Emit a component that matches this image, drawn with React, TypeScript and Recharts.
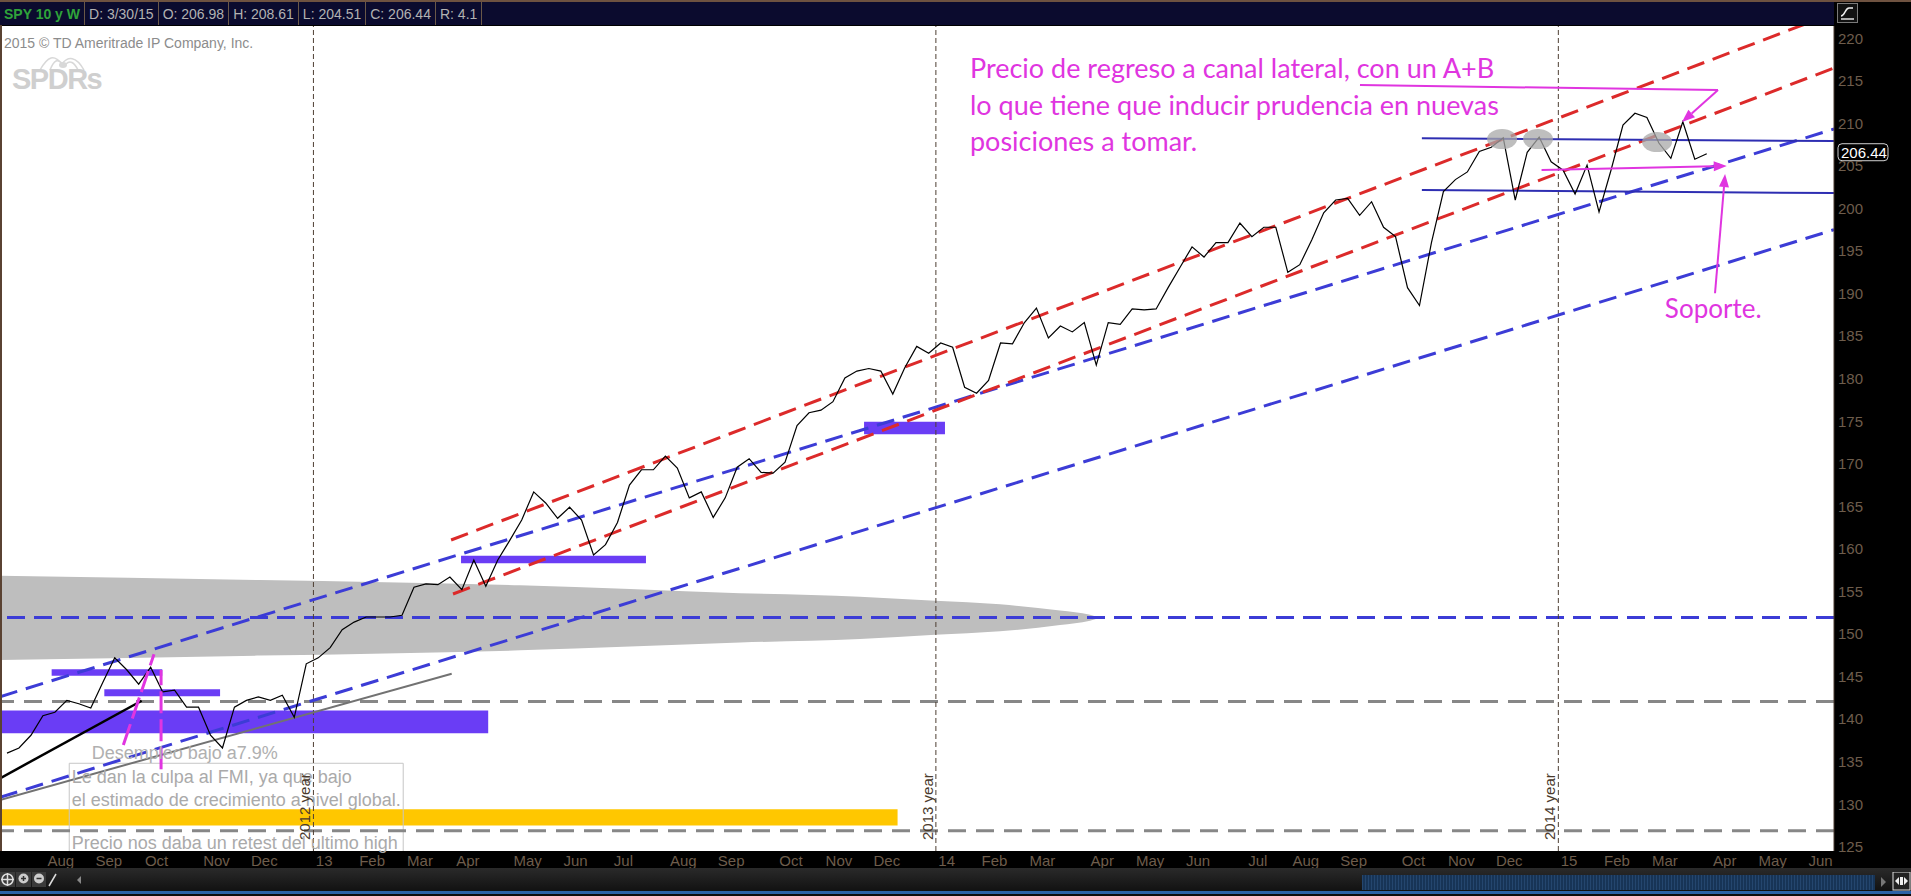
import React from 'react';
import {
  ComposedChart, Line, Area, XAxis, YAxis, CartesianGrid,
  ReferenceLine, ReferenceArea, ReferenceDot,
} from 'recharts';

// SPY weekly closes, week of 7/9/12 .. week of 3/30/15 (x = week number)
const closes = [
  136.0, 136.6, 138.1, 140.4, 140.8, 142.2, 141.8, 141.3, 144.3, 147.2,
  145.8, 144.1, 146.1, 143.2, 143.4, 141.4, 141.4, 138.1, 136.6, 141.4,
  142.2, 142.6, 142.2, 142.8, 140.2, 146.5, 147.2, 148.4, 150.5, 151.4,
  152.0, 152.0, 152.0, 152.2, 155.5, 155.9, 155.8, 156.7, 155.2, 158.7,
  155.6, 158.7, 161.0, 163.4, 166.7, 165.4, 163.6, 164.9, 163.4, 159.3,
  160.5, 163.1, 167.5, 169.3, 169.3, 170.9, 169.5, 166.0, 166.7, 163.7,
  166.0, 169.6, 170.6, 169.0, 168.9, 170.2, 174.5, 176.0, 176.3, 177.3,
  180.1, 180.9, 181.2, 180.9, 178.2, 181.3, 183.8, 183.0, 184.2, 183.7,
  179.0, 178.3, 179.8, 184.2, 184.1, 186.6, 188.3, 184.8, 186.2, 185.5,
  186.6, 181.6, 186.6, 186.4, 188.2, 188.1, 188.2, 190.7, 193.1, 195.5,
  194.3, 196.0, 196.0, 198.3, 196.7, 197.8, 197.8, 192.5, 193.4, 196.3,
  199.5, 201.0, 201.2, 199.2, 200.8, 197.8, 196.7, 190.7, 188.6, 196.0,
  202.0, 203.4, 204.3, 206.7, 207.2, 208.3, 201.0, 206.6, 208.4, 205.5,
  204.5, 201.7, 205.1, 199.6, 204.5, 209.8, 211.2, 210.7, 207.7, 205.9,
  210.2, 205.8, 206.44,
];

// first weekly bar of each month
const monthWeeks = [4, 8, 12, 17, 21, 26, 30, 34, 38, 43, 47, 51, 56, 60, 65, 69, 73,
  78, 82, 86, 91, 95, 99, 104, 108, 112, 117, 121, 125, 130, 134, 138, 143, 147, 151];
const monthLabels = ['Aug', 'Sep', 'Oct', 'Nov', 'Dec', '13', 'Feb', 'Mar', 'Apr', 'May', 'Jun', 'Jul',
  'Aug', 'Sep', 'Oct', 'Nov', 'Dec', '14', 'Feb', 'Mar', 'Apr', 'May', 'Jun', 'Jul', 'Aug', 'Sep',
  'Oct', 'Nov', 'Dec', '15', 'Feb', 'Mar', 'Apr', 'May', 'Jun'];

const yearWeeks = [25.6, 77.6, 129.6];
const yearLabels = ['2012 year', '2013 year', '2014 year'];

const priceTicks = [125, 130, 135, 140, 145, 150, 155, 160, 165, 170, 175, 180, 185, 190, 195, 200, 205, 210, 215, 220];

const headerFields = ['SPY 10 y W', 'D: 3/30/15', 'O: 206.98', 'H: 208.61', 'L: 204.51', 'C: 206.44', 'R: 4.1'];
const lastClose = 206.44;

const xMin = -0.585;
const xMax = 152.63;
const yMin = 124.5;
const yMax = 221.45;

// grey volume wedge around 152
const wedgeWeeks = [xMin, 21.14, 42.86, 61.24, 71.26, 77.53, 82.96, 87.97, 90.48, 91.31];
const wedgeTop = [156.84, 156.34, 155.72, 154.8, 154.39, 153.9, 153.49, 152.75, 152.25, 151.9];
const wedgeBottom = [146.96, 147.46, 148.08, 149.0, 149.41, 149.9, 150.31, 151.05, 151.55, 151.9];

// drawn studies: [x1, y1, x2, y2] in weeks / price
const redChannel = [
  [37.1, 161.05, xMax, 222.97],
  [37.26, 154.7, xMax, 216.51],
];
const blueTrends = [
  [xMin, 142.63, xMax, 209.34],
  [xMin, 130.81, xMax, 197.51],
];
const rangeLines = [
  [118.2, 208.25, xMax, 207.93],
  [118.2, 202.17, xMax, 201.82],
];
const blackTrend = [xMin, 133.04, 11.25, 142.16];
const greyTrend = [xMin, 130.5, 37.15, 145.32];
const magentaDashes = [
  [9.72, 136.96, 12.28, 147.62],
  [12.87, 134.1, 12.87, 145.77],
];
const blueLevel = 151.95;
const greyLevels = [142.07, 126.89];

// [x1, x2, y1, y2]
const violetBars = [
  [xMin, 40.2, 138.35, 141.0],
  [3.73, 12.97, 145.1, 145.85],
  [8.13, 17.8, 142.7, 143.5],
  [37.93, 53.38, 158.31, 159.2],
  [71.6, 78.36, 173.47, 174.95],
];
const goldBar = [xMin, 74.4, 127.5, 129.4];
const noteBox = [5.2, 33.1, 120, 134.81];

const topMarks = [[124.9, 208.16], [127.9, 208.16], [137.85, 207.81]];

const abLine = [113.03, 214.51, 142.94, 213.92];
const abArrow = [142.94, 213.92, 139.93, 210.16];
const supportArrows = [
  [128.2, 204.52, 143.67, 204.99],
  [142.69, 190.04, 143.53, 204.05],
];

const mainNote = ['Precio de regreso a canal lateral, con un A+B', 'lo que tiene que inducir prudencia en nuevas', 'posiciones a tomar.'];
const mainNoteAt = [80.45, 215.35];
const supportNote = 'Soporte.';
const supportNoteAt = [138.5, 187.13];
const jobsNote = 'Desempleo bajo a7.9%';
const jobsNoteAt = [7.08, 135.31];
const boxNote = ['Le dan la culpa al FMI, ya que bajo', 'el estimado de crecimiento a nivel global.', '', 'Precio nos daba un retest del ultimo high'];
const boxNoteAt = [5.4, 132.49];

const priceData = closes.map((close, i) => ({ i, close }));
const wedgeData = wedgeWeeks.map((w, k) => ({ i: w, band: [wedgeBottom[k], wedgeTop[k]] }));
const monthTicks = monthWeeks.map((w) => w + 0.5);

const FONT = "'Liberation Sans', Arial, sans-serif";
const NARROW = "'Liberation Sans Narrow', 'Liberation Sans', Arial, sans-serif";
const NOTE_FONT = "Lato, 'Open Sans', sans-serif";
const RED = '#dc2a2a';
const BLUE = '#3c3cd6';
const GREY = '#878787';
const VIOLET = '#6a3df5';
const GOLD = '#ffc700';
const NAVY = '#2e2eb2';
const MAG = '#e035e0';
const AXIS_TXT = '#6e5d4c';

const arrowShape = (p: any) => {
  const { x1, y1, x2, y2 } = p;
  const a = Math.atan2(y2 - y1, x2 - x1);
  const len = 13;
  const half = 5;
  const bx = x2 - len * Math.cos(a);
  const by = y2 - len * Math.sin(a);
  const pts = `${x2},${y2} ${bx + half * Math.sin(a)},${by - half * Math.cos(a)} ${bx - half * Math.sin(a)},${by + half * Math.cos(a)}`;
  return (
    <g>
      <line x1={x1} y1={y1} x2={bx} y2={by} stroke={MAG} strokeWidth={2} />
      <polygon points={pts} fill={MAG} />
    </g>
  );
};

const textShape = (lines: string[], color: string, size: number, font: string, gaps: number[]) => (p: any) => (
  <text x={p.cx} y={p.cy} fill={color} fontSize={size} fontFamily={font}>
    {lines.map((t, k) => (
      <tspan key={k} x={p.cx} dy={k === 0 ? 0 : gaps[k - 1]}>{t || ' '}</tspan>
    ))}
  </text>
);

const seg = (s: number[]) => [{ x: s[0], y: s[1] }, { x: s[2], y: s[3] }];

const Toolbar = () => (
  <div style={{ position: 'absolute', left: 0, top: 868, width: 1911, height: 28, background: 'linear-gradient(#2a2a2a, #0c0c0c)' }}>
    <svg width={100} height={22} style={{ position: 'absolute', left: 0, top: 2 }}>
      <rect x={0} y={2} width={15} height={15} fill="#3a3a3a" />
      <circle cx={7.5} cy={9.5} r={5.5} fill="none" stroke="#ddd" strokeWidth={1.5} />
      <path d="M7.5 3v13M1 9.5h13" stroke="#ddd" strokeWidth={1.5} />
      <rect x={16} y={2} width={15} height={15} fill="#3a3a3a" />
      <circle cx={23.5} cy={8.5} r={5} fill="#ccc" />
      <path d="M21 8.5h5M23.5 6v5" stroke="#333" strokeWidth={1.5} />
      <rect x={32} y={2} width={14} height={15} fill="#3a3a3a" />
      <circle cx={39} cy={8.5} r={5} fill="#ccc" />
      <path d="M36.5 8.5h5" stroke="#333" strokeWidth={1.5} />
      <path d="M49 16l7-12" stroke="#ddd" strokeWidth={1.5} />
      <path d="M81 6l-4 4 4 4z" fill="#888" />
    </svg>
    <div style={{ position: 'absolute', left: 1362, top: 7, width: 513, height: 15, background: 'repeating-linear-gradient(90deg, #24466e 0px, #24466e 1px, #173456 1px, #173456 3px)' }} />
    <svg width={34} height={20} style={{ position: 'absolute', left: 1877, top: 4 }}>
      <path d="M4 5l5 5-5 5z" fill="#777" />
      <rect x={16} y={0} width={17} height={18} fill="#222" stroke="#ddd" />
      <path d="M18 9l4-4v8zM31 9l-4-4v8z" fill="#eee" />
      <rect x={23} y={5} width={3} height={8} fill="#eee" />
    </svg>
    <div style={{ position: 'absolute', left: 0, top: 23, width: 1911, height: 3, background: '#2c62a6' }} />
  </div>
);

const Header = () => (
  <>
    <div style={{ position: 'absolute', left: 0, top: 0, width: 1911, height: 2, background: '#6e5240' }} />
    <div style={{ position: 'absolute', left: 0, top: 2, width: 1834, height: 23, background: '#0b0b2e', display: 'flex', fontFamily: FONT, fontSize: 14 }}>
      {headerFields.map((h, k) => (
        <div key={k} style={{
          padding: '0 4px', display: 'flex', alignItems: 'center', borderRight: '1px solid #6a5848',
          color: k === 0 ? '#2fa33a' : '#b2b2b2', fontWeight: k === 0 ? 'bold' : 'normal',
        }}>{h}</div>
      ))}
    </div>
    <svg width={22} height={21} style={{ position: 'absolute', left: 1837, top: 3 }}>
      <rect x={0.5} y={0.5} width={20} height={19} fill="#111" stroke="#7a7a7a" />
      <path d="M4 13c4 0 4-8 8-8h4" fill="none" stroke="#eee" strokeWidth={1.6} />
      <path d="M4 16h13" stroke="#eee" strokeWidth={1.4} />
    </svg>
  </>
);

const Watermark = () => (
  <>
    <div style={{ position: 'absolute', left: 4, top: 35, fontFamily: FONT, fontSize: 14, color: '#8c8c8c', lineHeight: '16px' }}>
      2015 © TD Ameritrade IP Company, Inc.
    </div>
    <svg width={110} height={22} style={{ position: 'absolute', left: 10, top: 50 }}>
      <path d="M30 20c8-14 14-16 22-6M52 14c6-8 14-8 22 6M40 20c4-10 8-12 12-6M56 14c4-4 8-2 12 6" fill="none" stroke="#d8d8d8" strokeWidth={1.5} />
      <ellipse cx={53} cy={15} rx={4} ry={3} fill="#d8d8d8" />
    </svg>
    <div style={{ position: 'absolute', left: 12, top: 64, fontFamily: FONT, fontWeight: 'bold', fontSize: 29, lineHeight: '30px', color: '#cfcfcf', letterSpacing: -1.5 }}>
      SPDRs
    </div>
    <div style={{ position: 'absolute', left: 0, top: 25, width: 2, height: 826, background: '#5a4232' }} />
  </>
);

export default function App() {
  return (
    <div style={{ position: 'absolute', left: 0, top: 0, width: 1911, height: 896, background: '#000', overflow: 'hidden' }}>
      <ComposedChart width={1911} height={896} data={priceData} margin={{ top: 26, right: 0, bottom: 28, left: 0 }}>
        <CartesianGrid horizontal={false} vertical={false} fill="#ffffff" />
        <XAxis
          type="number" dataKey="i" domain={[xMin, xMax]} allowDataOverflow ticks={monthTicks} interval={0}
          tickFormatter={(v: number) => monthLabels[monthTicks.indexOf(v)] ?? ''}
          height={17} tickSize={0} tickMargin={4} axisLine={false}
          tick={{ fill: AXIS_TXT, fontSize: 15, fontFamily: NARROW }}
        />
        <YAxis
          orientation="right" type="number" domain={[yMin, yMax]} allowDataOverflow ticks={priceTicks} interval={0}
          width={77} tickSize={0} tickMargin={4} axisLine={{ stroke: '#4a3b30' }}
          tick={{ fill: AXIS_TXT, fontSize: 15, fontFamily: NARROW, textAnchor: 'start' }}
        />

        <Area data={wedgeData} dataKey="band" type="monotone" fill="#bebebe" fillOpacity={1} stroke="none" isAnimationActive={false} />

        {violetBars.map((b, k) => (
          <ReferenceArea key={`vb${k}`} x1={b[0]} x2={b[1]} y1={b[2]} y2={b[3]} fill={VIOLET} fillOpacity={1} stroke="none" ifOverflow="hidden" />
        ))}
        <ReferenceArea x1={goldBar[0]} x2={goldBar[1]} y1={goldBar[2]} y2={goldBar[3]} fill={GOLD} fillOpacity={1} stroke="none" ifOverflow="hidden" />

        <ReferenceLine y={blueLevel} stroke={BLUE} strokeWidth={3} strokeDasharray="18 9" ifOverflow="hidden" />
        {greyLevels.map((g, k) => (
          <ReferenceLine key={`gl${k}`} y={g} stroke={GREY} strokeWidth={3} strokeDasharray="18 10" ifOverflow="hidden" />
        ))}
        {yearWeeks.map((w, k) => (
          <ReferenceLine key={`yl${k}`} x={w} stroke="#4e3f33" strokeWidth={1} strokeDasharray="5 3" ifOverflow="hidden" />
        ))}

        <ReferenceLine segment={seg(greyTrend)} stroke="#727272" strokeWidth={2} ifOverflow="hidden" />
        <ReferenceLine segment={seg(blackTrend)} stroke="#000" strokeWidth={2.5} ifOverflow="hidden" />
        {blueTrends.map((s, k) => (
          <ReferenceLine key={`bt${k}`} segment={seg(s)} stroke={BLUE} strokeWidth={3} strokeDasharray="18 9" ifOverflow="hidden" />
        ))}
        {redChannel.map((s, k) => (
          <ReferenceLine key={`rc${k}`} segment={seg(s)} stroke={RED} strokeWidth={3} strokeDasharray="18 9" ifOverflow="hidden" />
        ))}
        {rangeLines.map((s, k) => (
          <ReferenceLine key={`rl${k}`} segment={seg(s)} stroke={NAVY} strokeWidth={2} ifOverflow="hidden" />
        ))}

        {topMarks.map((m, k) => (
          <ReferenceDot key={`tm${k}`} x={m[0]} y={m[1]} ifOverflow="hidden"
            shape={(p: any) => <ellipse cx={p.cx} cy={p.cy} rx={15} ry={10} fill="#a8a8a8" fillOpacity={0.75} />} />
        ))}

        <Line dataKey="close" type="linear" stroke="#000" strokeWidth={1.2} dot={false} isAnimationActive={false} />

        {magentaDashes.map((s, k) => (
          <ReferenceLine key={`md${k}`} segment={seg(s)} stroke={MAG} strokeWidth={3} strokeDasharray="22 6" ifOverflow="hidden" />
        ))}
        <ReferenceLine segment={seg(abLine)} stroke={MAG} strokeWidth={2} ifOverflow="hidden" />
        <ReferenceLine segment={seg(abArrow)} ifOverflow="hidden" shape={arrowShape} />
        {supportArrows.map((s, k) => (
          <ReferenceLine key={`sa${k}`} segment={seg(s)} ifOverflow="hidden" shape={arrowShape} />
        ))}

        <ReferenceArea x1={noteBox[0]} x2={noteBox[1]} y1={noteBox[2]} y2={noteBox[3]} fill="none" fillOpacity={0} stroke="#c6c6c6" strokeWidth={1} ifOverflow="hidden" />

        <ReferenceDot x={mainNoteAt[0]} y={mainNoteAt[1]} ifOverflow="hidden" shape={textShape(mainNote, MAG, 27, NOTE_FONT, [36.6, 36.6])} />
        <ReferenceDot x={supportNoteAt[0]} y={supportNoteAt[1]} ifOverflow="hidden" shape={textShape([supportNote], MAG, 26, NOTE_FONT, [])} />
        <ReferenceDot x={jobsNoteAt[0]} y={jobsNoteAt[1]} ifOverflow="hidden" shape={textShape([jobsNote], '#b0b0b0', 18, FONT, [])} />
        <ReferenceDot x={boxNoteAt[0]} y={boxNoteAt[1]} ifOverflow="hidden" shape={textShape(boxNote, '#aaaaaa', 18, FONT, [23.3, 22, 21])} />

        {yearWeeks.map((w, k) => (
          <ReferenceDot key={`yt${k}`} x={w} y={yMin} ifOverflow="hidden"
            shape={(p: any) => (
              <text transform={`translate(${p.cx - 3},${p.cy - 11}) rotate(-90)`} fill="#4a3a2c" fontSize={15} fontFamily={FONT}>
                {yearLabels[k]}
              </text>
            )} />
        ))}

        <ReferenceDot x={xMax} y={lastClose} ifOverflow="visible"
          shape={(p: any) => (
            <g>
              <rect x={p.cx + 4} y={p.cy - 10} width={50} height={17} rx={4} fill="#000" stroke="#d0d0d0" />
              <text x={p.cx + 7} y={p.cy + 4} fill="#fff" fontSize={15} fontFamily={FONT}>{lastClose.toFixed(2)}</text>
            </g>
          )} />
      </ComposedChart>
      <Header />
      <Watermark />
      <Toolbar />
    </div>
  );
}
